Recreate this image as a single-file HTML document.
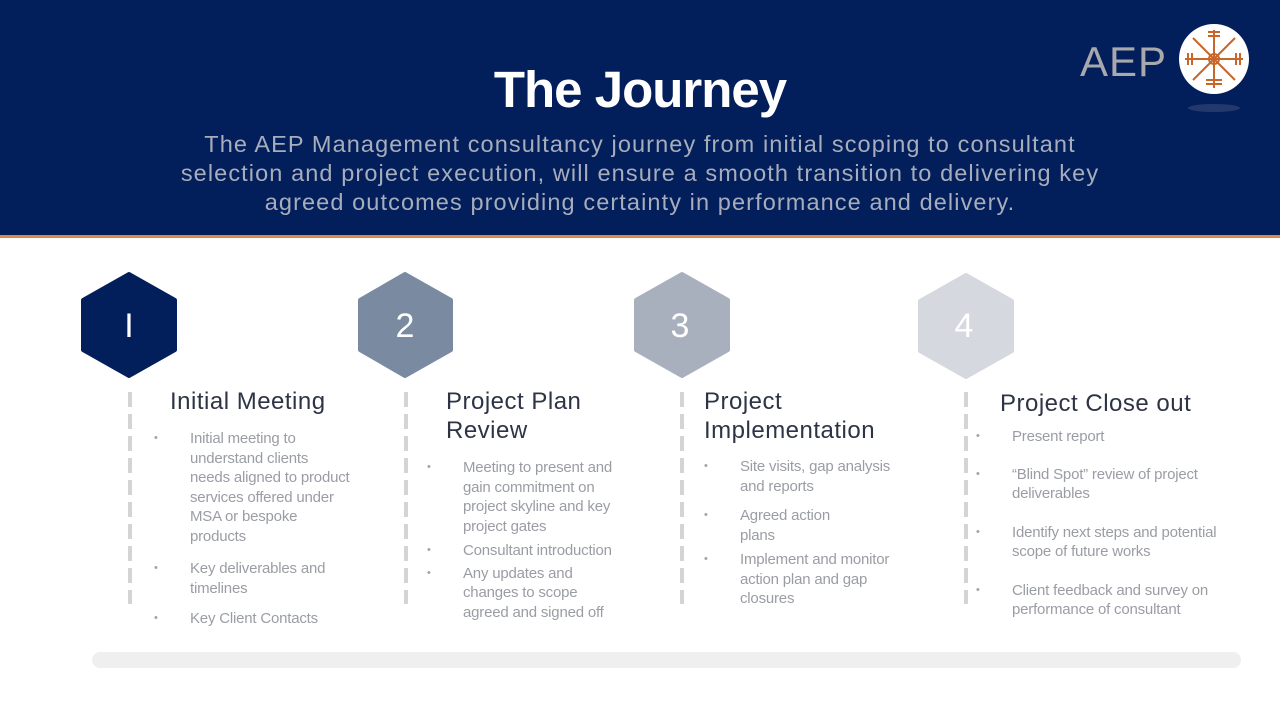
<!DOCTYPE html>
<html><head><meta charset="utf-8"><style>
body{margin:0;width:1280px;height:720px;position:relative;background:#fff;font-family:"Liberation Sans",sans-serif;overflow:hidden}
.hdr{position:absolute;left:0;top:0;width:1280px;height:236px;background:#021f5c}
.orl{position:absolute;left:0;top:235px;width:1280px;height:3px;background:#e0874a}
h1{position:absolute;top:60px;left:0;width:1280px;text-align:center;margin:0;color:#fff;font-size:51px;font-weight:bold;letter-spacing:-1px}
.sub{position:absolute;top:130px;left:0;width:1280px;text-align:center;color:#a8adbb;font-size:23.5px;line-height:29px;letter-spacing:1.1px;white-space:nowrap}
.aep{position:absolute;left:1080px;top:38px;color:#a7a9ad;font-size:42px;letter-spacing:1px}
.t{position:absolute;color:#2e3445;font-size:24px;line-height:29px;letter-spacing:0.5px;white-space:nowrap}
ul{position:absolute;margin:0;padding:0;list-style:none;color:#9a9da4;font-size:15px;line-height:19.5px;white-space:nowrap;letter-spacing:-0.2px}
li{position:relative;padding-left:36px}
li:before{content:"•";position:absolute;left:0;font-size:11px;color:#a0a3a8}
.dash{position:absolute;width:4px;background:repeating-linear-gradient(#d4d4d4 0 15px,transparent 15px 22px)}
.bar{position:absolute;left:92px;top:652px;width:1149px;height:16px;border-radius:8px;background:#efefef}
</style></head><body>
<div class="hdr"></div><div class="orl"></div>
<h1>The Journey</h1>
<div class="sub">The AEP Management consultancy journey from initial scoping to consultant<br>selection and project execution, will ensure a smooth transition to delivering key<br>agreed outcomes providing certainty in performance and delivery.</div>
<div class="aep">AEP</div>
<svg style="position:absolute;left:1178px;top:22px" width="74" height="100">
<circle cx="36" cy="37" r="35" fill="#fff"/>
<g stroke="#c8662a" stroke-width="2" fill="none">
<circle cx="36" cy="37" r="5"/>
<line x1="36" y1="8" x2="36" y2="66"/><line x1="7" y1="37" x2="65" y2="37"/>
<line x1="15" y1="16" x2="57" y2="58"/><line x1="57" y1="16" x2="15" y2="58"/>
<path d="M30 10h12M30 14h12M10 31v12M14 31v12M58 31v12M62 31v12M28 62h16M28 58h16"/>
</g>
<ellipse cx="36" cy="86" rx="26" ry="4" fill="#3b4a78" opacity="0.6"/>
</svg>
<svg style="position:absolute;left:0;top:260px" width="1280" height="130">
<g font-family="Liberation Sans" font-size="34" text-anchor="middle">
<path d="M129 14 L175 40 L175 90 L129 116 L83 90 L83 40Z" fill="#021f5c" stroke="#021f5c" stroke-width="4" stroke-linejoin="round"/>
<text x="129" y="77" fill="#fff">I</text>
<path d="M405 14 L451 40 L451 90 L405 116 L360 90 L360 40Z" fill="#7a8aa1" stroke="#7a8aa1" stroke-width="4" stroke-linejoin="round"/>
<text x="405" y="77" fill="#fff">2</text>
<path d="M682 14 L728 40 L728 90 L682 116 L636 90 L636 40Z" fill="#a9b0bd" stroke="#a9b0bd" stroke-width="4" stroke-linejoin="round"/>
<text x="680" y="77" fill="#fff">3</text>
<path d="M966 15 L1012 41 L1012 91 L966 117 L920 91 L920 41Z" fill="#d5d9df" stroke="#d5d9df" stroke-width="4" stroke-linejoin="round"/>
<text x="964" y="77" fill="#fff">4</text>
</g></svg>
<div class="dash" style="left:128px;top:392px;height:212px"></div>
<div class="dash" style="left:404px;top:392px;height:212px"></div>
<div class="dash" style="left:680px;top:392px;height:212px"></div>
<div class="dash" style="left:964px;top:392px;height:212px"></div>
<div class="t" style="left:170px;top:387px">Initial Meeting</div>
<ul style="left:154px;top:429px">
<li>Initial meeting to<br>understand clients<br>needs aligned to product<br>services offered under<br>MSA or bespoke<br>products</li>
<li style="margin-top:13px">Key deliverables and<br>timelines</li>
<li style="margin-top:11px">Key Client Contacts</li></ul>
<div class="t" style="left:446px;top:387px">Project Plan<br>Review</div>
<ul style="left:427px;top:458px">
<li>Meeting to present and<br>gain commitment on<br>project skyline and key<br>project gates</li>
<li style="margin-top:5px">Consultant introduction</li>
<li style="margin-top:3px">Any updates and<br>changes to scope<br>agreed and signed off</li></ul>
<div class="t" style="left:704px;top:387px">Project<br>Implementation</div>
<ul style="left:704px;top:457px">
<li>Site visits, gap analysis<br>and reports</li>
<li style="margin-top:10px">Agreed action<br>plans</li>
<li style="margin-top:5px">Implement and monitor<br>action plan and gap<br>closures</li></ul>
<div class="t" style="left:1000px;top:389px">Project Close out</div>
<ul style="left:976px;top:427px">
<li>Present report</li>
<li style="margin-top:18px">“Blind Spot” review of project<br>deliverables</li>
<li style="margin-top:19px">Identify next steps and potential<br>scope of future works</li>
<li style="margin-top:19px">Client feedback and survey on<br>performance of consultant</li></ul>
<div class="bar"></div>
</body></html>
